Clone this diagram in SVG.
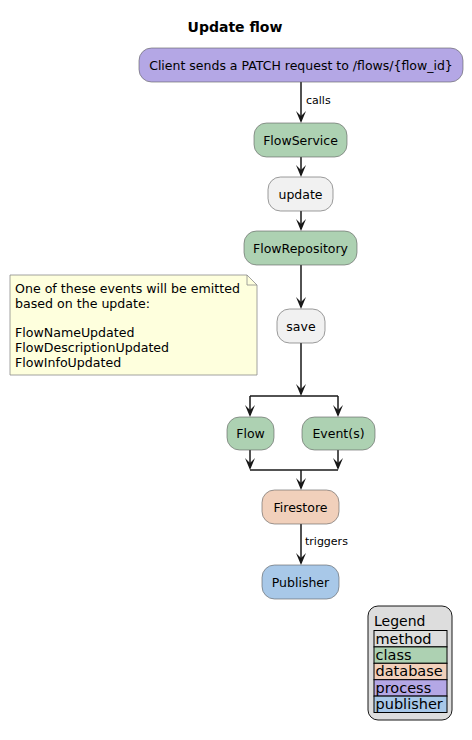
<svg xmlns="http://www.w3.org/2000/svg" width="472" height="740" viewBox="0 0 472 740">
<style>
text{font-family:"DejaVu Sans",sans-serif;fill:#000}
.n{stroke:#5a5a5a;stroke-width:0.6}
.t{font-size:12.5px;text-anchor:middle}
.nt{font-size:12.6px}
.l{font-size:11px}
.lg{font-size:14.5px}
.c{stroke:#181818;stroke-width:1.5;fill:none}
.a{fill:#181818}
.cell{stroke:#000;stroke-width:1}
.method{fill:#F1F1F1}
.class{fill:#ADD1B2}
.db{fill:#F1D0BB}
.proc{fill:#B4A7E5}
.pub{fill:#A8C8E8}
</style>
<rect width="472" height="740" fill="#fff"/>
<text x="235" y="32" style="font-size:14px;font-weight:bold;text-anchor:middle">Update flow</text>

<g id="connectors">
<line class="c" x1="301" y1="82" x2="301" y2="121"/>
<polygon class="a" points="296,111 301,123 306,111 301,116"/>
<text class="l" x="306" y="104">calls</text>
<line class="c" x1="301" y1="157" x2="301" y2="175"/>
<polygon class="a" points="296,165 301,177 306,165 301,170"/>
<line class="c" x1="301" y1="211" x2="301" y2="229"/>
<polygon class="a" points="296,219 301,231 306,219 301,224"/>
<line class="c" x1="301" y1="265" x2="301" y2="307"/>
<polygon class="a" points="296,297 301,309 306,297 301,302"/>
<line class="c" x1="301" y1="343" x2="301" y2="394"/>
<polygon class="a" points="296,384 301,396 306,384 301,389"/>
<line class="c" x1="250" y1="396" x2="338" y2="396"/>
<line class="c" x1="250" y1="396" x2="250" y2="415"/>
<polygon class="a" points="245,405 250,417 255,405 250,410"/>
<line class="c" x1="338" y1="396" x2="338" y2="415"/>
<polygon class="a" points="333,405 338,417 343,405 338,410"/>
<line class="c" x1="250" y1="450" x2="250" y2="468"/>
<polygon class="a" points="245,458 250,470 255,458 250,463"/>
<line class="c" x1="338" y1="450" x2="338" y2="468"/>
<polygon class="a" points="333,458 338,470 343,458 338,463"/>
<line class="c" x1="250" y1="470" x2="338" y2="470"/>
<line class="c" x1="301" y1="470" x2="301" y2="488"/>
<polygon class="a" points="296,478 301,490 306,478 301,483"/>
<line class="c" x1="301" y1="524" x2="301" y2="563"/>
<polygon class="a" points="296,553 301,565 306,553 301,558"/>
<text class="l" x="305" y="545">triggers</text>
</g>

<g id="client">
<rect class="n proc" x="139" y="48" width="324" height="34" rx="12.5"/>
<text class="t" x="301" y="69.5">Client sends a PATCH request to /flows/{flow_id}</text>
</g>
<g id="flowservice">
<rect class="n class" x="254" y="123" width="93" height="34" rx="12.5"/>
<text class="t" x="300.5" y="144.5">FlowService</text>
</g>
<g id="update">
<rect class="n method" x="268" y="177" width="65" height="34" rx="12.5"/>
<text class="t" x="300.5" y="198.5">update</text>
</g>
<g id="flowrepository">
<rect class="n class" x="244" y="231" width="113" height="34" rx="12.5"/>
<text class="t" x="300.5" y="252.5">FlowRepository</text>
</g>
<g id="note">
<path d="M10,275 H247 L257,285 V375 H10 Z" fill="#FEFFDD" stroke="#8a8a8a" stroke-width="0.8"/>
<path d="M247,275 V285 H257" fill="none" stroke="#8a8a8a" stroke-width="0.8"/>
<text class="nt" x="15" y="293">One of these events will be emitted</text>
<text class="nt" x="15" y="308">based on the update:</text>
<text class="nt" x="15" y="337">FlowNameUpdated</text>
<text class="nt" x="15" y="352">FlowDescriptionUpdated</text>
<text class="nt" x="15" y="367">FlowInfoUpdated</text>
</g>
<g id="save">
<rect class="n method" x="277" y="309" width="48" height="34" rx="12.5"/>
<text class="t" x="301" y="330.5">save</text>
</g>
<g id="flow">
<rect class="n class" x="227" y="417" width="47" height="33" rx="12.5"/>
<text class="t" x="250.5" y="438">Flow</text>
</g>
<g id="events">
<rect class="n class" x="302" y="417" width="73" height="33" rx="12.5"/>
<text class="t" x="338.5" y="438">Event(s)</text>
</g>
<g id="firestore">
<rect class="n db" x="262" y="490" width="77" height="34" rx="12.5"/>
<text class="t" x="300.5" y="511.5">Firestore</text>
</g>
<g id="publisher">
<rect class="n pub" x="262" y="565" width="77" height="34" rx="12.5"/>
<text class="t" x="300.5" y="586.5">Publisher</text>
</g>

<g id="legend">
<rect x="368" y="606" width="84" height="114" rx="10" fill="#DDDDDD" stroke="#181818" stroke-width="1"/>
<text style="font-size:14px" x="374" y="626">Legend</text>
<rect class="cell" fill="#DDDDDD" x="374" y="630.5" width="73" height="16.4"/>
<rect class="cell class" x="374" y="646.9" width="73" height="16.4"/>
<rect class="cell db" x="374" y="663.3" width="73" height="16.4"/>
<rect class="cell proc" x="374" y="679.7" width="73" height="16.4"/>
<rect class="cell pub" x="374" y="696.1" width="73" height="16.4"/>
<text class="lg" x="375.5" y="643.5">method</text>
<text class="lg" x="375.5" y="659.9">class</text>
<text class="lg" x="375.5" y="676.3">database</text>
<text class="lg" x="375.5" y="692.7">process</text>
<text class="lg" x="375.5" y="709.1">publisher</text>
</g>
</svg>
